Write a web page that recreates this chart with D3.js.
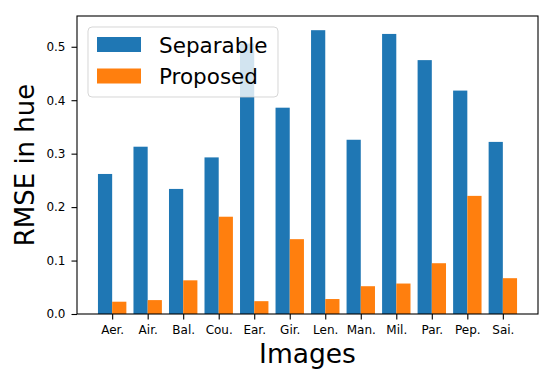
<!DOCTYPE html>
<html>
<head>
<meta charset="utf-8">
<script src="https://cdn.jsdelivr.net/npm/d3@7"></script>
<style>
  body { margin: 0; background: #fff; }
  text { font-family: "DejaVu Sans", sans-serif; fill: #000; }
</style>
</head>
<body>
<svg id="chart" width="550" height="376"></svg>
<script>
// data
const categories = ["Aer.", "Air.", "Bal.", "Cou.", "Ear.", "Gir.", "Len.", "Man.", "Mil.", "Par.", "Pep.", "Sai."];
const separable = [0.262, 0.313, 0.234, 0.293, 0.506, 0.386, 0.531, 0.326, 0.524, 0.475, 0.418, 0.322];
const proposed  = [0.023, 0.026, 0.063, 0.182, 0.024, 0.140, 0.028, 0.052, 0.057, 0.095, 0.221, 0.067];
const yTicks = [0.0, 0.1, 0.2, 0.3, 0.4, 0.5];
const seriesNames = ["Separable", "Proposed"];
const colors = ["#1f77b4", "#ff7f0e"];

const svg = d3.select("#chart");
const plotLeft = 77, plotRight = 538, plotTop = 16, plotBottom = 314;
const barW = 0.4;

// matplotlib style auto limits
const xScale = d3.scaleLinear()
    .domain([-0.99, categories.length - 1 + 0.99])
    .range([plotLeft, plotRight]);

const yMax = d3.max(separable.concat(proposed)) * 1.05;
const yScale = d3.scaleLinear()
    .domain([0, yMax])
    .range([plotBottom, plotTop]);

// bars
const plotG = svg.append("g");
[separable, proposed].forEach((vals, s) => {
    plotG.selectAll(".bar-" + s)
        .data(vals)
        .enter().append("rect")
        .attr("class", "bar-" + s)
        .attr("x", (d, i) => xScale(i + (s === 0 ? -barW : 0)))
        .attr("width", xScale(barW) - xScale(0))
        .attr("y", d => yScale(d))
        .attr("height", d => yScale(0) - yScale(d))
        .attr("fill", colors[s]);
});

// axes
const xAxis = d3.axisBottom(xScale)
    .tickValues(d3.range(categories.length))
    .tickFormat(i => categories[i])
    .tickSize(5.5)
    .tickPadding(6);

const yAxis = d3.axisLeft(yScale)
    .tickValues(yTicks)
    .tickFormat(d3.format(".1f"))
    .tickSize(5.5)
    .tickPadding(6);

const xg = svg.append("g")
    .attr("transform", `translate(0,${plotBottom})`)
    .call(xAxis);
const yg = svg.append("g")
    .attr("transform", `translate(${plotLeft},0)`)
    .call(yAxis);

[xg, yg].forEach(g => {
    g.select(".domain").remove();
    g.selectAll("line").attr("stroke", "#000").attr("stroke-width", 1.1);
    g.selectAll("text")
        .style("font-family", "DejaVu Sans")
        .style("font-size", "12px")
        .attr("fill", "#000");
});

// frame
svg.append("rect")
    .attr("x", plotLeft)
    .attr("y", plotTop)
    .attr("width", plotRight - plotLeft)
    .attr("height", plotBottom - plotTop)
    .attr("fill", "none")
    .attr("stroke", "#000")
    .attr("stroke-width", 1.1);

// axis labels
svg.append("text")
    .attr("x", (plotLeft + plotRight) / 2)
    .attr("y", 363)
    .attr("text-anchor", "middle")
    .style("font-size", "26.5px")
    .text("Images");

svg.append("text")
    .attr("transform", `translate(33.5,${(plotTop + plotBottom) / 2}) rotate(-90)`)
    .attr("text-anchor", "middle")
    .style("font-size", "26px")
    .text("RMSE in hue");

// legend
const legend = svg.append("g").attr("transform", "translate(88,27)");
legend.append("rect")
    .attr("width", 190)
    .attr("height", 70)
    .attr("rx", 4)
    .attr("fill", "#fff")
    .attr("fill-opacity", 0.8)
    .attr("stroke", "#cccccc")
    .attr("stroke-opacity", 0.8);

seriesNames.forEach((name, s) => {
    const row = legend.append("g").attr("transform", `translate(9,${10 + s * 31.5})`);
    row.append("rect")
        .attr("width", 44)
        .attr("height", 15)
        .attr("fill", colors[s]);
    row.append("text")
        .attr("x", 62)
        .attr("y", 15.5)
        .style("font-size", "21.5px")
        .text(name);
});
</script>
</body>
</html>
